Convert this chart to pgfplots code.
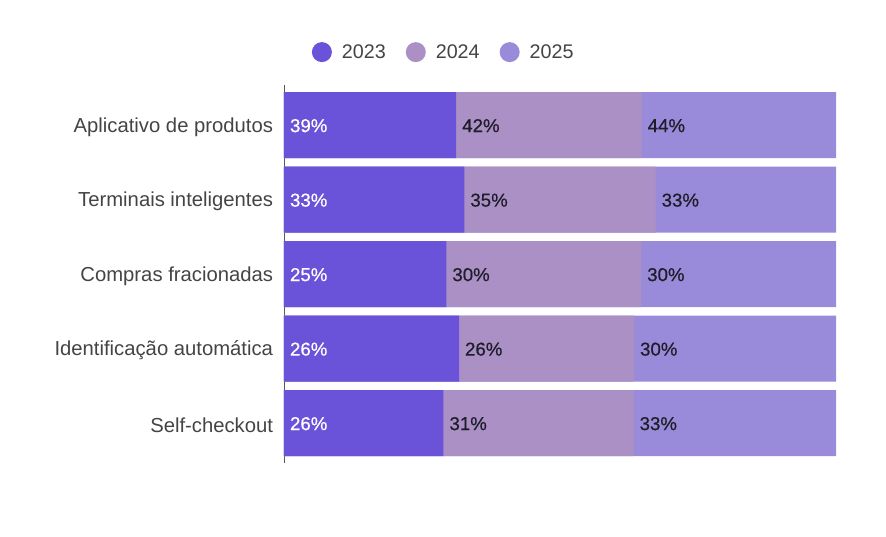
\documentclass[border=0pt]{standalone}
\usepackage{pgfplots}
\pgfplotsset{compat=1.18}
\usepackage{pgfplotstable}
\usepackage{fontspec}
\setmainfont{Liberation Sans}
\newfontface\medfont{Liberation Sans}[FakeBold=0.6]
\definecolor{c23}{HTML}{6A52D9}
\definecolor{c24}{HTML}{AB90C6}
\definecolor{c25}{HTML}{9A8BDA}
\definecolor{tgray}{HTML}{444444}
\definecolor{tdark}{HTML}{1E1E2A}
\pgfplotstableread{
idx a b c
0 39 42 44
1 33 35 33
2 25 30 30
3 26 26 30
4 26 31 33
}\data
\begin{document}
\begin{tikzpicture}
\path[use as bounding box] (-213pt,-54.75pt) rectangle (451.5pt,347.25pt);
\begin{axis}[
  at={(0,0)}, anchor=south west,
  width=414pt, height=283.5pt, scale only axis,
  /pgf/number format/assume math mode=true,
  xmin=0, xmax=100, ymin=-0.537, ymax=4.537, y dir=reverse,
  axis x line=none, axis y line=left,
  axis line style={-, draw=black!65, line width=0.6pt},
  ytick={0,...,4},
  yticklabels={Aplicativo de produtos,Terminais inteligentes,Compras fracionadas,Identificação automática,Self-checkout},
  major tick length=0pt,
  yticklabel style={font=\fontsize{15.2}{18}\selectfont, text=tgray, inner sep=0pt, xshift=-8pt, yshift=-1.5pt},
  bar width=49.5pt, bar shift=0pt,
  clip=false,
  legend image code/.code={\fill[#1] (0pt,0pt) circle (7.5pt); \path (13pt,0pt);},
  legend style={at={(0.29,1.087)}, anchor=center, draw=none, fill=none,
    legend columns=3, font=\fontsize{14.8}{17}\selectfont, text=tgray,
    /tikz/every even column/.append style={column sep=13pt}},
  nodes near coords={\pgfmathprintnumber{\pgfplotspointmeta}\%},
  every node near coord/.append style={anchor=west, xshift=1pt, yshift=-0.5pt, font=\medfont\fontsize{14}{16}\selectfont},
]
\addlegendimage{fill=c23, draw=none}\addlegendentry{2023}
\addlegendimage{fill=c24, draw=none}\addlegendentry{2024}
\addlegendimage{fill=c25, draw=none}\addlegendentry{2025}
\addplot[xbar, fill=c25, draw=none, forget plot, nodes near coords=] table[x expr=100, y=idx]{\data};
\addplot[xbar, fill=c24, draw=none, forget plot, nodes near coords=] table[x expr={(\thisrow{a}+\thisrow{b})/(\thisrow{a}+\thisrow{b}+\thisrow{c})*100}, y=idx]{\data};
\addplot[xbar, fill=c23, draw=none, forget plot, nodes near coords=] table[x expr={\thisrow{a}/(\thisrow{a}+\thisrow{b}+\thisrow{c})*100}, y=idx]{\data};
\addplot[draw=none, mark=none, forget plot, point meta=explicit, every node near coord/.append style={text=white}] table[x expr=0, y=idx, meta=a]{\data};
\addplot[draw=none, mark=none, forget plot, point meta=explicit, every node near coord/.append style={text=tdark}] table[x expr={\thisrow{a}/(\thisrow{a}+\thisrow{b}+\thisrow{c})*100}, y=idx, meta=b]{\data};
\addplot[draw=none, mark=none, forget plot, point meta=explicit, every node near coord/.append style={text=tdark}] table[x expr={(\thisrow{a}+\thisrow{b})/(\thisrow{a}+\thisrow{b}+\thisrow{c})*100}, y=idx, meta=c]{\data};
\end{axis}
\end{tikzpicture}
\end{document}
